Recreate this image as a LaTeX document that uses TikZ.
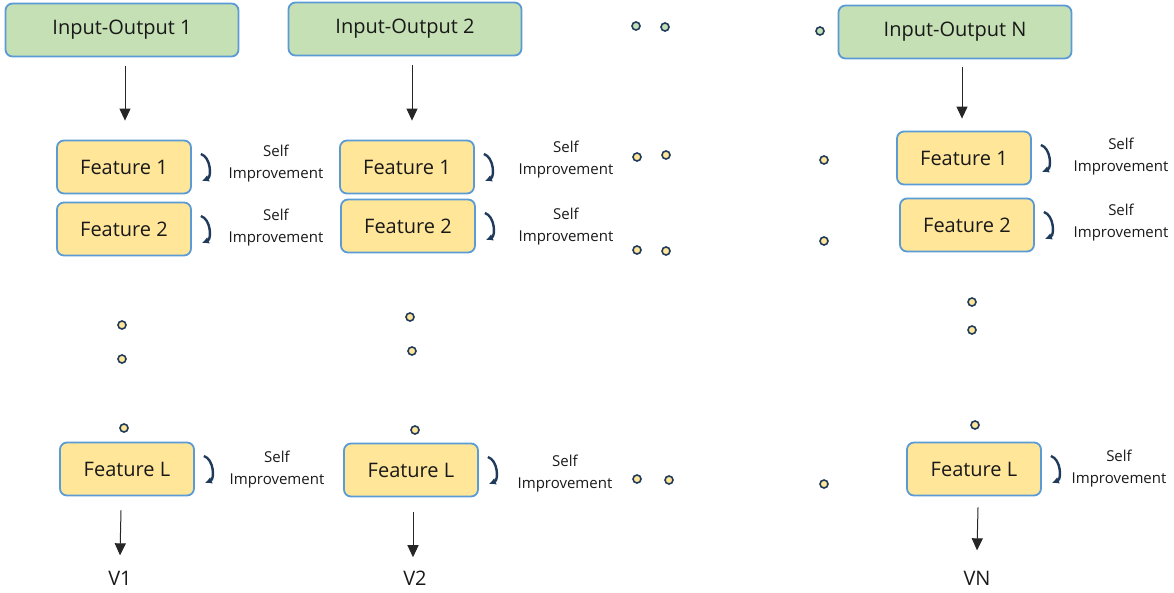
\documentclass[tikz,border=0pt]{standalone}
\usepackage{fontspec}
\setmainfont{Open Sans}
\usetikzlibrary{arrows.meta,calc}
\definecolor{iofill}{HTML}{C5E0B4}
\definecolor{ftfill}{HTML}{FFE699}
\definecolor{bordblue}{HTML}{5B9BD5}
\definecolor{navy}{HTML}{203A5C}
\tikzset{
  iobox/.style={draw=bordblue,fill=iofill,line width=1.8pt,rounded corners=7pt,minimum width=233pt,minimum height=53pt,font=\fontsize{20}{24}\selectfont,text=black!90},
  ftbox/.style={draw=bordblue,fill=ftfill,line width=1.8pt,rounded corners=7pt,minimum width=134pt,minimum height=53pt,font=\fontsize{20}{24}\selectfont,text=black!90},
  dotg/.style={circle,draw=navy,fill=iofill,line width=1.6pt,minimum size=8pt,inner sep=0pt},
  doty/.style={circle,draw=navy,fill=ftfill,line width=1.6pt,minimum size=8pt,inner sep=0pt},
  selflbl/.style={align=center,font=\fontsize{15}{22}\selectfont,text=black!90},
  vlbl/.style={font=\fontsize{20}{24}\selectfont,text=black!90},
  flow/.style={-{Triangle[length=12pt,width=11pt]},line width=1pt,black!85},
  curl/.style={-{Latex[length=7pt,width=7pt]},line width=2.4pt,navy},
}
\begin{document}
\begin{tikzpicture}[x=1pt,y=-1pt]
\useasboundingbox (0,0) rectangle (1174,592);
% top input-output boxes
\node[iobox] (io1) at (122,30) {Input-Output 1};
\node[iobox] (io2) at (405,29) {Input-Output 2};
\node[iobox] (ioN) at (955,32) {Input-Output N};
\node[dotg] (td1) at (636,26) {};
\node[dotg] (td2) at (665,27) {};
\node[dotg] (td3) at (820,31) {};
% column 1
\node[ftbox] (a1) at (124,167) {Feature 1};
\node[ftbox] (a2) at (124,229) {Feature 2};
\node[ftbox] (aL) at (127,469) {Feature L};
\node[doty] (ad1) at (122,325) {};
\node[doty] (ad2) at (122,359) {};
\node[doty] (ad3) at (124,428) {};
\node[vlbl] (v1) at (120,578) {V1};
% column 2
\node[ftbox] (b1) at (407,167) {Feature 1};
\node[ftbox] (b2) at (408,226) {Feature 2};
\node[ftbox] (bL) at (411,470) {Feature L};
\node[doty] (bd1) at (410,317) {};
\node[doty] (bd2) at (412,351) {};
\node[doty] (bd3) at (415,430) {};
\node[vlbl] (v2) at (415,578) {V2};
% column N
\node[ftbox] (c1) at (964,158) {Feature 1};
\node[ftbox] (c2) at (967,225) {Feature 2};
\node[ftbox] (cL) at (974,469) {Feature L};
\node[doty] (cd1) at (972,302) {};
\node[doty] (cd2) at (972,330) {};
\node[doty] (cd3) at (975,425) {};
\node[vlbl] (vN) at (977,578) {VN};
% middle dots
\node[doty] (m1) at (637,157) {};
\node[doty] (m2) at (666,155) {};
\node[doty] (m3) at (824,160) {};
\node[doty] (m4) at (637,250) {};
\node[doty] (m5) at (666,251) {};
\node[doty] (m6) at (824,241) {};
\node[doty] (m7) at (637,479) {};
\node[doty] (m8) at (669,480) {};
\node[doty] (m9) at (824,484) {};
% self improvement labels
\node[selflbl] (s1) at (276,164) {Self\\Improvement};
\node[selflbl] (s2) at (276,228) {Self\\Improvement};
\node[selflbl] (s3) at (277,470) {Self\\Improvement};
\node[selflbl] (s4) at (566,160) {Self\\Improvement};
\node[selflbl] (s5) at (566,227) {Self\\Improvement};
\node[selflbl] (s6) at (565,474) {Self\\Improvement};
\node[selflbl] (s7) at (1121,157) {Self\\Improvement};
\node[selflbl] (s8) at (1121,223) {Self\\Improvement};
\node[selflbl] (s9) at (1119,469) {Self\\Improvement};
% self-improvement curls
\foreach \n in {a1,a2,aL,b1,b2,bL,c1,c2,cL}{
  \draw[curl] ([xshift=9pt,yshift=13pt]\n.east) to[bend left=70] ([xshift=10pt,yshift=-14pt]\n.east);
}
% flows
\draw[flow] ($(io1.south)+(3,9)$) -- ($(a1.north)+(1,-19)$);
\draw[flow] ($(io2.south)+(7,9)$) -- ($(b1.north)+(5,-19)$);
\draw[flow] ($(ioN.south)+(7,8)$) -- ($(c1.north)+(-2,-12)$);
\draw[flow] ($(aL.south)+(-6,14)$) -- ($(v1.north)+(0,-12)$);
\draw[flow] ($(bL.south)+(2,15)$) -- ($(v2.north)+(-2,-10)$);
\draw[flow] ($(cL.south)+(4,11)$) -- ($(vN.north)+(0,-17)$);
\end{tikzpicture}
\end{document}
